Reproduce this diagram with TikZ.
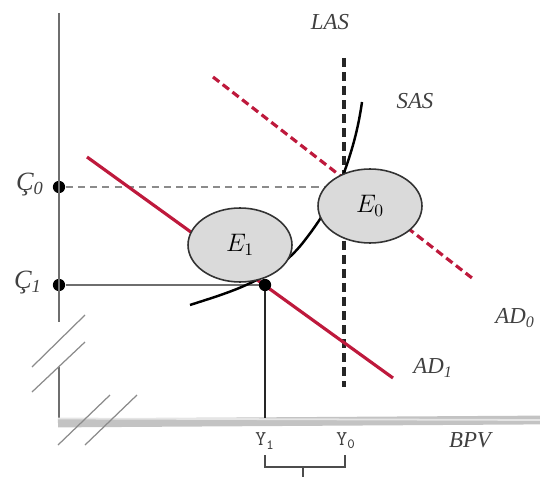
\documentclass[tikz,border=0pt]{standalone}
\usepackage{fontspec}
\setmainfont{Liberation Serif}
\usetikzlibrary{calc,shapes.geometric}
\definecolor{adred}{RGB}{190,25,60}
\definecolor{axgray}{RGB}{110,110,110}
\definecolor{bandgray}{RGB}{195,195,195}
\definecolor{ellgray}{RGB}{218,218,218}
\begin{document}
\begin{tikzpicture}[x=0.02cm,y=-0.02cm,
  lbl/.style={font=\fontsize{13}{15}\selectfont\itshape, inner sep=0pt, text=black!75},
  ylbl/.style={font=\fontsize{12}{14}\selectfont\ttfamily, inner sep=0pt, text=black!75},
  axisline/.style={draw=axgray, line width=1.2pt},
  breakline/.style={draw=axgray!80, line width=0.7pt},
  adline/.style={draw=adred, line width=1.8pt},
  addash/.style={draw=adred, line width=1.8pt, dash pattern=on 4.5pt off 2.5pt},
  lasdash/.style={draw=black!85, line width=2.4pt, dash pattern=on 5pt off 3pt},
  guide/.style={draw=axgray, line width=1.1pt},
  eqell/.style={draw=black!80, fill=ellgray, line width=0.9pt, ellipse, inner sep=0pt,
    minimum width=2.08cm, minimum height=1.48cm, font=\fontsize{14}{16}\selectfont},
  dot/.style={circle, fill=black, inner sep=0pt, minimum size=7pt}
]
\useasboundingbox (0,0) rectangle (540,479);
% coordinates
\coordinate (ytop) at (59,13);
\coordinate (ybrk) at (59,322);
\coordinate (yres) at (59,367);
\coordinate (orig) at (59,420);
\coordinate (xend) at (540,420);
\node[dot] (c0) at (59,187) {};
\node[dot] (c1) at (59,285) {};
\coordinate (c0end) at (345,187);
\coordinate (y1base) at (265,418);
\coordinate (lastop) at (344,58);
\coordinate (lasbot) at (344,387);
\coordinate (ad1a) at (87,157);
\coordinate (ad1b) at (393,378);
\coordinate (ad0a) at (213,77);
\coordinate (ad0b) at (472,278);
% axes
\draw[axisline] (ytop) -- (ybrk);
\draw[axisline] (yres) -- (orig);
\draw[draw=bandgray, line width=5pt] (58,423) -- (xend);
\draw[draw=black!10, line width=1pt] (58,418.5) -- (xend);
% break marks
\draw[breakline] (85,315) -- (32,367);
\draw[breakline] (85,342) -- (32,392);
\draw[breakline] (110,395) -- (58,445);
\draw[breakline] (137,395) -- (85,445);
% guide lines
\draw[draw=axgray!80, line width=0.6pt, dash pattern=on 4pt off 3pt] (c0) -- (c0end);
\coordinate (e1c) at (265,285);
\draw[guide] (c1) -- (e1c);
\draw[draw=black!85, line width=1.4pt] (e1c) -- (y1base);
% LAS
\draw[lasdash] (lastop) -- (lasbot);
% AD lines
\draw[adline] (ad1a) -- (ad1b);
\draw[addash] (ad0a) -- (ad0b);
% SAS
\coordinate (sas0) at (190,305);
\coordinate (sas4) at (362,102);
\draw[draw=black, line width=1.4pt] (sas0) .. controls (230,292) and (275,280) .. (305,240)
  .. controls (330,208) and (342,180) .. (345,170)
  .. controls (352,150) and (358,130) .. (sas4);
% ellipses
\node[eqell] (E1) at (240,245) {$E_1$};
\node[eqell] (E0) at (370,206) {$E_0$};
\node[dot] (e1pt) at (265,285) {};
% labels
\node[lbl] (lLAS) at (330,22) {LAS};
\node[lbl] (lSAS) at (415,101) {SAS};
\node[lbl] (lAD0) at (515,318) {AD\textsubscript{0}};
\node[lbl] (lAD1) at (433,368) {AD\textsubscript{1}};
\node[lbl] (lBPV) at (470,440) {BPV};
\node[lbl, font=\fontsize{15}{17}\selectfont\itshape] (lC0) at (30,185) {Ç\textsubscript{0}};
\node[lbl, font=\fontsize{15}{17}\selectfont\itshape] (lC1) at (28,283) {Ç\textsubscript{1}};
\node[ylbl] (lY1) at (265,441) {Y\textsubscript{1}};
\node[ylbl] (lY0) at (346,441) {Y\textsubscript{0}};
% bracket
\coordinate (bA) at (265,455);
\coordinate (bB) at (345,455);
\coordinate (bM) at (303,467);
\draw[draw=black!70, line width=0.8pt] (bA) |- (bB |- bM) -- (bB);
\draw[draw=black!70, line width=0.8pt] (bM) -- ++(0,10);
\end{tikzpicture}
\end{document}
